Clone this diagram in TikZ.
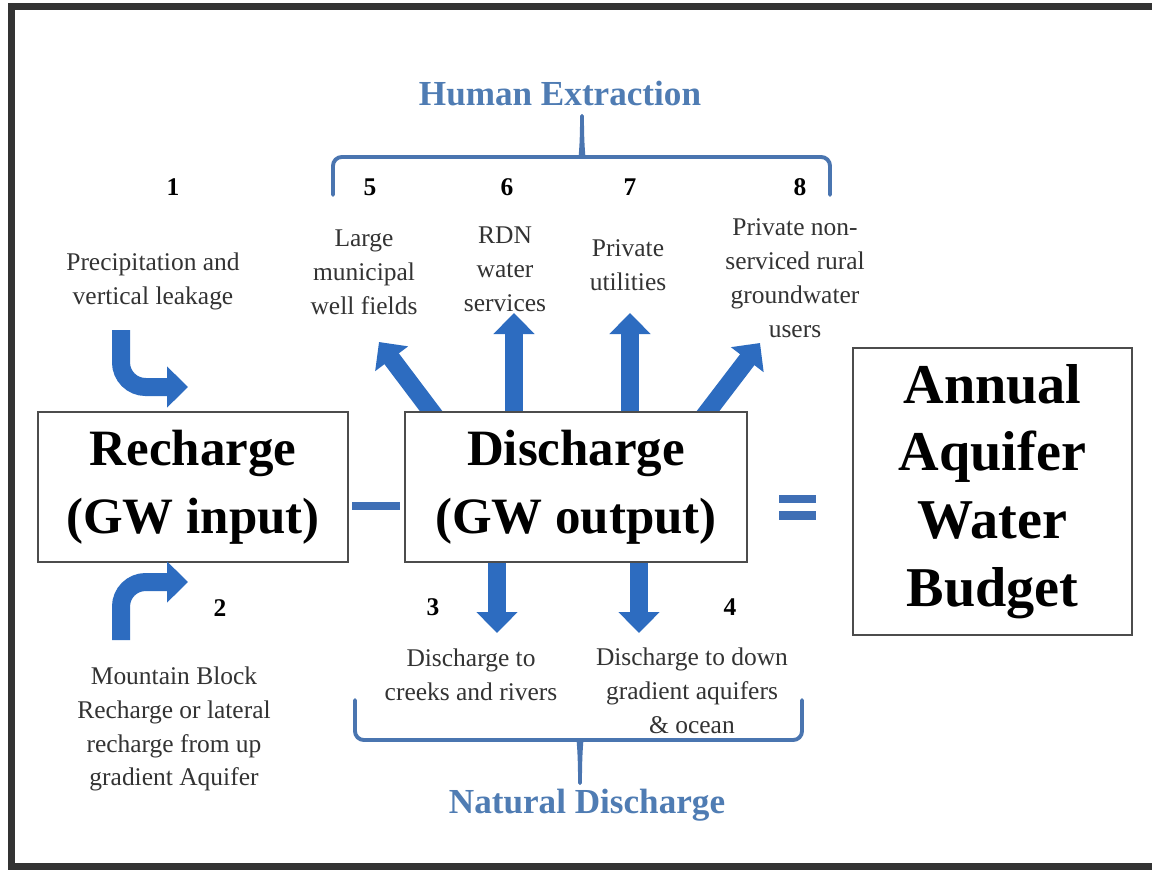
\documentclass[tikz,border=0pt]{standalone}
\usepackage{fontspec}
\setmainfont{Liberation Serif}
\usetikzlibrary{arrows.meta,calc,positioning}
\definecolor{flowblue}{HTML}{2D6CC0}
\definecolor{signblue}{HTML}{3F6FB5}
\definecolor{headblue}{HTML}{4F7CB3}
\definecolor{bracecol}{HTML}{4A75B0}
\definecolor{labelgray}{HTML}{333333}
\pgfdeclarelayer{bg}
\pgfsetlayers{bg,main}

\tikzset{
  bigbox/.style={draw=black!70,line width=1.1pt,fill=white,align=center,inner sep=0pt,font=\fontsize{29}{39}\selectfont\bfseries},
  note/.style={align=center,text=labelgray,font=\fontsize{14.5}{19.3}\selectfont},
  num/.style={font=\fontsize{14.5}{17}\selectfont\bfseries},
  flow/.style={draw=flowblue,line width=0.36cm,-{Triangle[width=0.8cm,length=0.42cm]}},
  bracepath/.style={draw=bracecol,line width=2.2pt,line cap=round},
  groupname/.style={text=headblue,font=\fontsize{20}{24}\selectfont\bfseries},
  bar/.style={fill=signblue,inner sep=0pt,minimum height=0.17cm}
}

\begin{document}
\begin{tikzpicture}[x=0.02cm,y=-0.02cm]
\useasboundingbox (0,0) rectangle (1152,869);
\begin{pgfonlayer}{bg}
\fill[white] (0,0) rectangle (1152,869);
\end{pgfonlayer}
\draw[black!80,line width=4pt] (11.5,6.5) rectangle (1175,866);

% the three boxes
\node[bigbox,minimum width=6.2cm,minimum height=3cm] (rech) at (193,487) {Recharge\\(GW input)};
\node[bigbox,minimum width=6.84cm,minimum height=3cm] (disc) at (576,487) {Discharge\\(GW output)};
\node[bigbox,minimum width=5.58cm,minimum height=5.74cm,font=\fontsize{32}{38.6}\selectfont\bfseries] (budget) at (992.5,491.5) {Annual\\Aquifer\\Water\\Budget};

% minus and equals
\node[bar,minimum width=0.96cm] (minus) at (376,506) {};
\node[bar,minimum width=0.74cm] (eqtop) at (797,499) {};
\node[bar,minimum width=0.74cm,below=0.15cm of eqtop] (eqbot) {};

% numbers and labels
\node[num] (n1) at (173,187) {1};
\node[note] (l1) at (153,281) {Precipitation and\\vertical leakage};
\node[num] (n2) at (220,608) {2};
\node[note] (l2) at (174,729) {Mountain Block\\Recharge or lateral\\recharge from up\\gradient Aquifer};
\node[num] (n3) at (433,607) {3};
\node[note] (l3) at (471,675) {Discharge to\\creeks and rivers};
\node[num] (n4) at (730,607) {4};
\node[note] (l4) at (692,691) {Discharge to down\\gradient aquifers\\\& ocean};
\node[num] (n5) at (370,187) {5};
\node[note] (l5) at (364,272) {Large\\municipal\\well fields};
\node[num] (n6) at (507,187) {6};
\node[note] (l6) at (505,269) {RDN\\water\\services};
\node[num] (n7) at (630,187) {7};
\node[note] (l7) at (628,265) {Private\\utilities};
\node[num] (n8) at (800,187) {8};
\node[note] (l8) at (795,278) {Private non-\\serviced rural\\groundwater\\users};

% group titles and braces
\node[groupname] (human) at (560,94) {Human Extraction};
\node[groupname] (natural) at (587,805) {Natural Discharge};
\draw[bracepath] (333,195) [rounded corners=5pt] -- (333,157) -- (572,157) [sharp corners] .. controls (580,157) and (582,150) .. (582,116);
\draw[bracepath] (830,195) [rounded corners=5pt] -- (830,157) -- (592,157) [sharp corners] .. controls (584,157) and (582,150) .. (582,116);
\draw[bracepath] (355,700) [rounded corners=5pt] -- (355,740) -- (570,740) [sharp corners] .. controls (578,740) and (580,748) .. (580,783);
\draw[bracepath] (802,700) [rounded corners=5pt] -- (802,740) -- (590,740) [sharp corners] .. controls (582,740) and (580,748) .. (580,783);

% arrow ends
\coordinate (src1) at (121,330);
\coordinate (tip1) at (188,387);
\coordinate (src2) at (121,640);
\coordinate (tip2) at (188,582);
\coordinate (tip3) at (497,633);
\coordinate (tip4) at (639,633);
\coordinate (tip5) at (379,342);
\coordinate (tip6) at (514,313);
\coordinate (tip7) at (630,313);
\coordinate (tip8) at (760,343);

\draw[flow,rounded corners=14pt] (src1) |- (tip1);
\draw[flow,rounded corners=14pt] (src2) |- (tip2);
\begin{pgfonlayer}{bg}
\draw[flow] ($(disc.north west)+(33,8)$) -- (tip5);
\draw[flow] (tip6 |- disc.center) -- (tip6);
\draw[flow] (tip7 |- disc.center) -- (tip7);
\draw[flow] ($(disc.north east)+(-46,8)$) -- (tip8);
\draw[flow] (tip3 |- disc.center) -- (tip3);
\draw[flow] (tip4 |- disc.center) -- (tip4);
\end{pgfonlayer}
\end{tikzpicture}
\end{document}
